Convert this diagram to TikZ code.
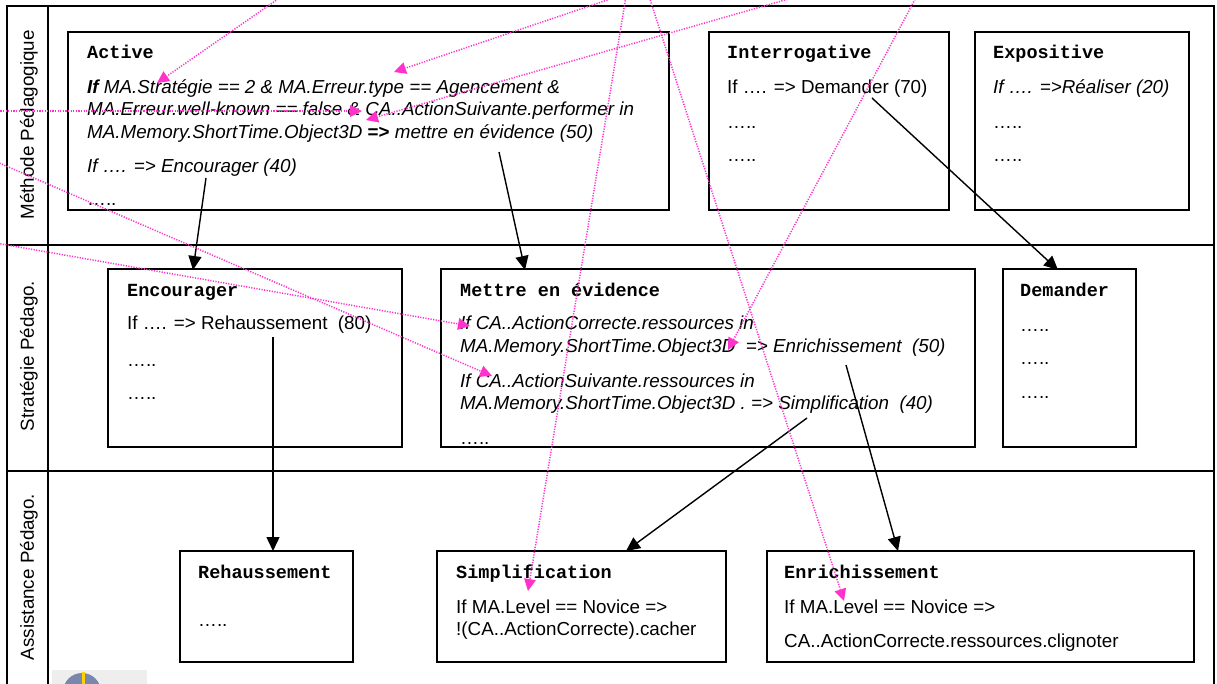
\documentclass[tikz,border=0pt]{standalone}
\usepackage{fontspec}
\setmainfont{Liberation Sans}
\newfontfamily\monof{Liberation Mono}
\usetikzlibrary{arrows.meta}
\definecolor{pinkc}{RGB}{255,51,204}
\definecolor{globec}{RGB}{120,135,170}
\definecolor{logobg}{RGB}{238,238,238}
\newcommand\ttlfont{\fontsize{18.5pt}{22pt}\selectfont\monof\bfseries}
\newcommand\txtfont{\fontsize{18.8pt}{22.5pt}\selectfont}
\begin{document}
\begin{tikzpicture}[x=1pt,y=-1pt,
  frame/.style={line width=1.6pt},
  box/.style={draw, line width=1.6pt, inner sep=0pt, outer sep=0pt, anchor=north west},
  ttl/.style={font=\ttlfont, anchor=base west, inner sep=0pt},
  txt/.style={font=\txtfont, anchor=base west, inner sep=0pt},
  itx/.style={font=\txtfont\itshape, anchor=base west, inner sep=0pt},
  lab/.style={font=\txtfont, rotate=90, inner sep=0pt},
  arr/.style={line width=1.4pt, -{Triangle[length=14pt,width=13pt]}},
  pk/.style={draw=pinkc, line width=1.5pt, dash pattern=on 1.2pt off 1.4pt,
             -{Triangle[length=12pt,width=12pt,fill=pinkc,line width=0pt]}}]
\useasboundingbox (0,0) rectangle (1217,683);
\clip (0,0) rectangle (1217,683);

% frame and lanes
\draw[frame] (7,6) rectangle (1214,720);
\draw[frame] (48,6) -- (48,720);
\draw[frame] (7,245) -- (1214,245);
\draw[frame] (7,471) -- (1214,471);
\node[lab] (l1) at (29,125) {Méthode Pédagogique};
\node[lab] (l2) at (29,356) {Stratégie Pédago.};
\node[lab] (l3) at (29,577) {Assistance Pédago.};

% row 1 boxes
\node[box, minimum width=601pt, minimum height=178pt] (active) at (68,32) {};
\node[box, minimum width=240pt, minimum height=178pt] (interr) at (709,32) {};
\node[box, minimum width=214pt, minimum height=178pt] (expos) at (975,32) {};
\node[ttl] (activeT) at (87,58) {Active};
\node[itx] (a1) at (87,93) {\textbf{If} MA.Stratégie == 2 \& MA.Erreur.type == Agencement \&};
\node[itx] (a2) at (87,115) {MA.Erreur.well-known == false \& CA..ActionSuivante.performer in};
\node[itx] (a3) at (87,138) {MA.Memory.ShortTime.Object3D \textbf{\upshape =>} mettre en évidence (50)};
\node[itx] (a4) at (87,172) {If …. => Encourager (40)};
\node[txt] (a5) at (87,205) {…..};
\node[ttl] (interrT) at (727,58) {Interrogative};
\node[txt] (i1) at (727,93) {If …. => Demander (70)};
\node[txt] (i2) at (727,128) {…..};
\node[txt] (i3) at (727,161) {…..};
\node[ttl] (exposT) at (993,58) {Expositive};
\node[itx] (e1) at (993,93) {If …. =>Réaliser (20)};
\node[txt] (e2) at (993,128) {…..};
\node[txt] (e3) at (993,161) {…..};

% row 2 boxes
\node[box, minimum width=294pt, minimum height=178pt] (encour) at (108,269) {};
\node[box, minimum width=534pt, minimum height=178pt] (mettre) at (441,269) {};
\node[box, minimum width=133pt, minimum height=178pt] (demand) at (1003,269) {};
\node[ttl] (encourT) at (127,296) {Encourager};
\node[txt] (c1) at (127,329) {If …. => Rehaussement\ \ (80)};
\node[txt] (c2) at (127,366) {…..};
\node[txt] (c3) at (127,399) {…..};
\node[ttl] (mettreT) at (460,296) {Mettre en évidence};
\node[itx] (m1) at (460,329) {If CA..ActionCorrecte.ressources in};
\node[itx] (m2) at (460,352) {MA.Memory.ShortTime.Object3D\ \ => Enrichissement\ \ (50)};
\node[itx] (m3) at (460,387) {If CA..ActionSuivante.ressources in};
\node[itx] (m4) at (460,409) {MA.Memory.ShortTime.Object3D . => Simplification\ \ (40)};
\node[txt] (m5) at (460,444) {…..};
\node[ttl] (demandT) at (1020,296) {Demander};
\node[txt] (d1) at (1020,331) {…..};
\node[txt] (d2) at (1020,364) {…..};
\node[txt] (d3) at (1020,398) {…..};

% row 3 boxes
\node[box, minimum width=173pt, minimum height=111pt] (rehaus) at (180,551) {};
\node[box, minimum width=289pt, minimum height=111pt] (simpl) at (437,551) {};
\node[box, minimum width=427pt, minimum height=111pt] (enrich) at (767,551) {};
\node[ttl] (rehausT) at (198,578) {Rehaussement};
\node[txt] (r1) at (198,626) {…..};
\node[ttl] (simplT) at (456,578) {Simplification};
\node[txt] (s1) at (456,613) {If MA.Level == Novice =>};
\node[txt] (s2) at (456,635) {!(CA..ActionCorrecte).cacher};
\node[ttl] (enrichT) at (784,578) {Enrichissement};
\node[txt] (n1) at (784,613) {If MA.Level == Novice =>};
\node[txt] (n2) at (784,647) {CA..ActionCorrecte.ressources.clignoter};

% logo (partly visible)
\fill[logobg] (52,670) rectangle (147,690);
\fill[globec] (82,692) circle (19);
\fill[yellow!70!orange] (81.5,672) rectangle (84.5,684);

% black connectors
\coordinate (b1s) at (206,178);  \coordinate (b1e) at (193,270);
\coordinate (b2s) at (499,152);  \coordinate (b2e) at (525,270);
\coordinate (b3s) at (872,98);   \coordinate (b3e) at (1058,270);
\coordinate (b4s) at (273,337);  \coordinate (b4e) at (273,551);
\coordinate (b5s) at (807,418);  \coordinate (b5e) at (626,551);
\coordinate (b6s) at (846,365);  \coordinate (b6e) at (898,551);
\draw[arr] (b1s) -- (b1e);
\draw[arr] (b2s) -- (b2e);
\draw[arr] (b3s) -- (b3e);
\draw[arr] (b4s) -- (b4e);
\draw[arr] (b5s) -- (b5e);
\draw[arr] (b6s) -- (b6e);

% magenta dotted pointers
\coordinate (pa) at (291,-10); \coordinate (pat) at (157,83);
\coordinate (pb) at (637,-10); \coordinate (pbt) at (394,72);
\coordinate (pc) at (820,-10); \coordinate (pct) at (366,120);
\coordinate (pd) at (-10,111); \coordinate (pdt) at (362,111);
\coordinate (pe) at (-10,159); \coordinate (pet) at (492,376);
\coordinate (pf) at (-10,242); \coordinate (pft) at (470,326);
\coordinate (pg) at (627,-10); \coordinate (pgt) at (528,591);
\coordinate (ph) at (647,-10); \coordinate (pht) at (844,601);
\coordinate (pi) at (920,-10); \coordinate (pit) at (728,350);
\draw[pk] (pa) -- (pat);
\draw[pk] (pb) -- (pbt);
\draw[pk] (pc) -- (pct);
\draw[pk] (pd) -- (pdt);
\draw[pk] (pe) -- (pet);
\draw[pk] (pf) -- (pft);
\draw[pk] (pg) -- (pgt);
\draw[pk] (ph) -- (pht);
\draw[pk] (pi) -- (pit);
\end{tikzpicture}
\end{document}
